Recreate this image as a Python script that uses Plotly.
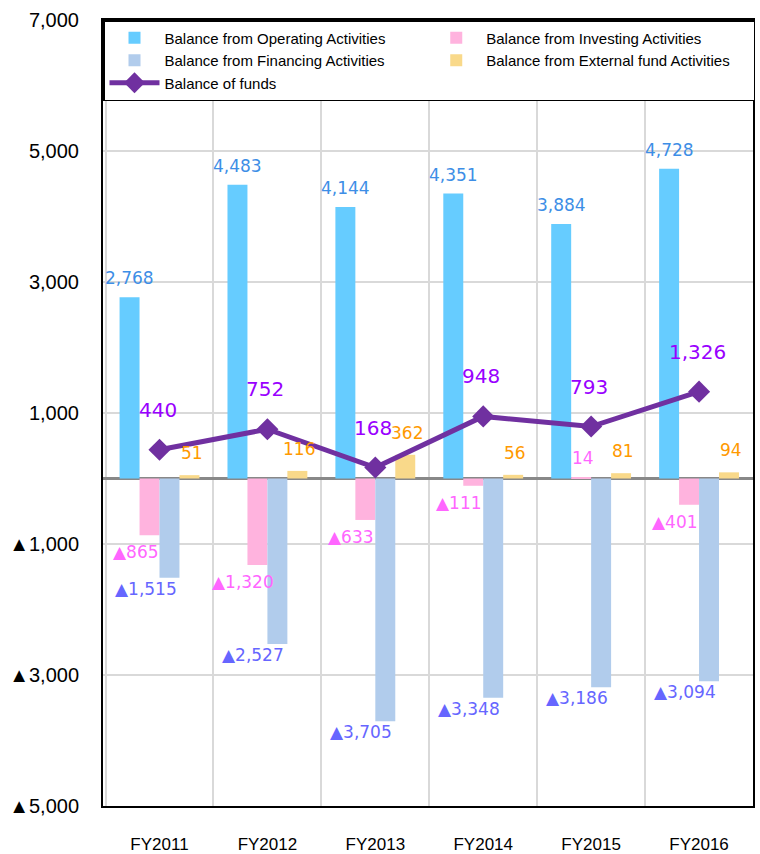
import plotly.graph_objects as go

categories = ["FY2011", "FY2012", "FY2013", "FY2014", "FY2015", "FY2016"]
operating = [2768, 4483, 4144, 4351, 3884, 4728]
investing = [-865, -1320, -633, -111, 14, -401]
financing = [-1515, -2527, -3705, -3348, -3186, -3094]
external = [51, 116, 362, 56, 81, 94]
balance = [440, 752, 168, 948, 793, 1326]

y_tickvals = [-5000, -3000, -1000, 1000, 3000, 5000, 7000]


def fmt(v):
    s = f"{abs(v):,}"
    return ("▲" + s) if v < 0 else s


y_ticktext = [fmt(v) for v in y_tickvals]

LABEL_FONT = "DejaVu Sans"
AXIS_FONT = "Liberation Sans"

fig = go.Figure()
series = [
    ("Balance from Operating Activities", operating, "#66CCFF"),
    ("Balance from Investing Activities", investing, "#FFB3DE"),
    ("Balance from Financing Activities", financing, "#B1CCEC"),
    ("Balance from External fund Activities", external, "#F9D98A"),
]
for name, vals, col in series:
    fig.add_trace(go.Bar(x=categories, y=vals, name=name, marker_color=col,
                         marker_line_width=0))

fig.add_trace(go.Scatter(x=categories, y=balance, name="Balance of funds",
                         mode="lines+markers",
                         line=dict(color="#7030A0", width=5),
                         marker=dict(symbol="diamond", size=17, color="#7030A0")))

annotations = []
# label style per series: (values, color, xshift, yshift_pos, yshift_neg, size)
label_specs = [
    (operating, "#3D8EE6", -30, 19, -16, 17),
    (investing, "#FF66FF", -24, 20, -17, 17),
    (financing, "#6666FF", -14, 20, -11, 17),
    (external, "#FF9900", 32, 22, -16, 17),
    (balance, "#9900FF", -2, 40, -40, 20),
]
for vals, col, xs, ysp, ysn, sz in label_specs:
    for c, v in zip(categories, vals):
        annotations.append(dict(
            x=c, y=v, xref="x", yref="y", text=fmt(v), showarrow=False,
            xshift=xs if v < 0 or vals is not investing else -8,
            yshift=ysp if v >= 0 else ysn,
            font=dict(family=LABEL_FONT, size=sz, color=col)))

fig.update_layout(
    width=760, height=854,
    margin=dict(l=103, r=7, t=20, b=48, autoexpand=False),
    paper_bgcolor="white", plot_bgcolor="white",
    barmode="group", bargap=0.26, bargroupgap=0,
    annotations=annotations,
    showlegend=True,
    legend=dict(orientation="h", x=0.0, y=1, xanchor="left", yanchor="top",
                bgcolor="white", bordercolor="black", borderwidth=1.5,
                entrywidth=0.495, entrywidthmode="fraction",
                itemwidth=50,
                font=dict(family=AXIS_FONT, size=15, color="black"),
                traceorder="normal"),
    xaxis=dict(type="category", tickson="boundaries", showgrid=True,
               gridcolor="#D9D9D9", gridwidth=2, ticks="", automargin=False,
               showline=True, linecolor="black", linewidth=2, mirror=True,
               tickfont=dict(family=AXIS_FONT, size=17, color="black"),
               ticklabelstandoff=22),
    yaxis=dict(range=[-5000, 7000], tickvals=y_tickvals, ticktext=y_ticktext,
               showgrid=True, gridcolor="#D9D9D9", gridwidth=2, automargin=False,
               zeroline=True, zerolinecolor="#888888", zerolinewidth=3,
               showline=True, linecolor="black", linewidth=2, mirror=True,
               ticks="", tickfont=dict(family=AXIS_FONT, size=20, color="black"),
               ticklabelstandoff=18),
)

fig.write_html("out.html",
               config={"displayModeBar": False},
               post_script="document.body.style.margin='0';"
                           "document.body.style.overflow='hidden';")
